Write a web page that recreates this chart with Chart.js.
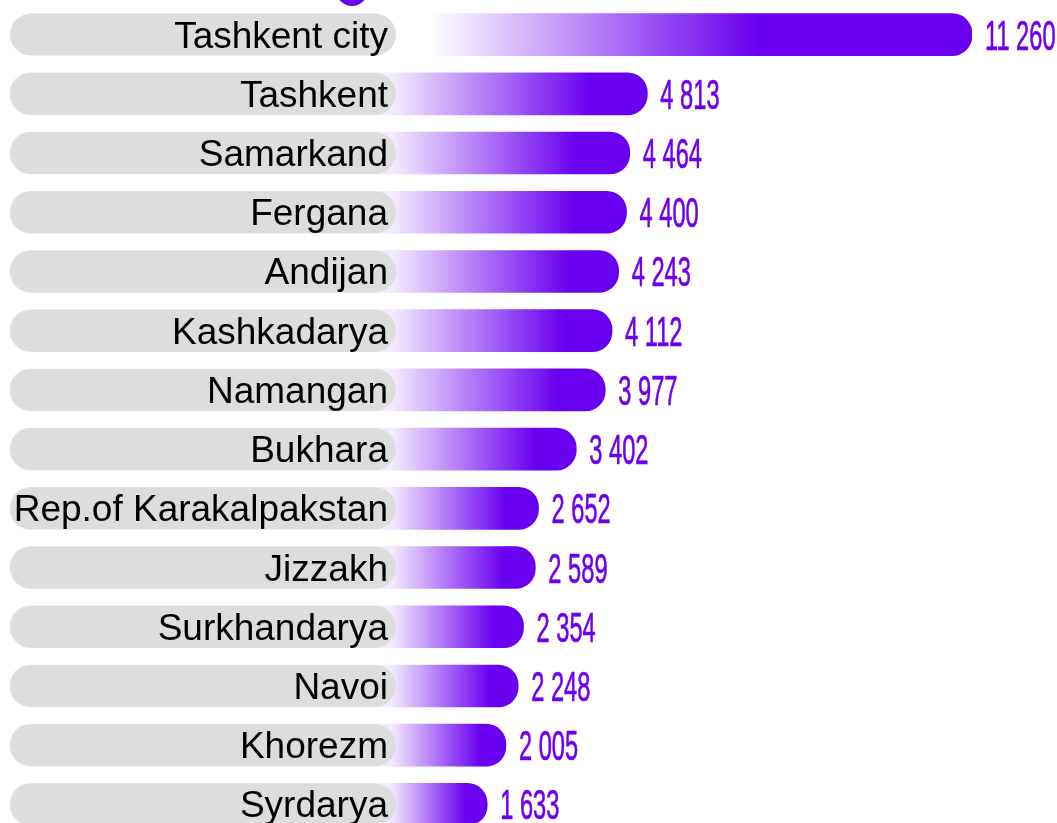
<!DOCTYPE html>
<html>
<head>
<meta charset="utf-8">
<script src="https://cdn.jsdelivr.net/npm/chart.js@4"></script>
<style>
  html, body { margin: 0; padding: 0; background: #fff; overflow: hidden; }
  #wrap { position: relative; width: 1057px; height: 834px; }
</style>
</head>
<body>
<div id="wrap"><canvas id="regionChart"></canvas></div>
<script>
const regions = [
  'Tashkent city', 'Tashkent', 'Samarkand', 'Fergana', 'Andijan', 'Kashkadarya',
  'Namangan', 'Bukhara', 'Rep.of Karakalpakstan', 'Jizzakh', 'Surkhandarya',
  'Navoi', 'Khorezm', 'Syrdarya'
];
const counts = [11260, 4813, 4464, 4400, 4243, 4112, 3977, 3402, 2652, 2589, 2354, 2248, 2005, 1633];

// hidden part of the axis that sits under the grey name pills
const axisMin = -7844;
const axisMax = 11260;

const PURPLE = '106, 0, 240';
const PILL = '#dcdddd';
const PILL_W = 386;

function fmtNum(v) {
  return String(v).replace(/\B(?=(\d{3})+(?!\d))/g, ' ');
}

function barGradient(ctx) {
  const chart = ctx.chart;
  const xs = chart.scales.x;
  if (!xs || !chart.chartArea) return 'rgb(' + PURPLE + ')';
  const x0 = xs.getPixelForValue(axisMin) + PILL_W - 6;
  const x1 = xs.getPixelForValue(counts[ctx.dataIndex]);
  if (!isFinite(x0) || !isFinite(x1)) return 'rgb(' + PURPLE + ')';
  const first = ctx.dataIndex === 0;
  const g = chart.ctx.createLinearGradient(x0, 0, x1, 0);
  const a0 = first ? 0 : 0.08;
  g.addColorStop(0, 'rgba(' + PURPLE + ', ' + a0 + ')');
  g.addColorStop(first ? 0.07 : 0.01, 'rgba(' + PURPLE + ', ' + a0 + ')');
  g.addColorStop(first ? 0.63 : 0.78, 'rgba(' + PURPLE + ', 1)');
  g.addColorStop(1, 'rgba(' + PURPLE + ', 1)');
  return g;
}

function roundRect(c, x, y, w, h, r) {
  c.beginPath();
  c.moveTo(x + r, y);
  c.lineTo(x + w - r, y);
  c.arc(x + w - r, y + r, r, -Math.PI / 2, Math.PI / 2);
  c.lineTo(x + r, y + h);
  c.arc(x + r, y + r, r, Math.PI / 2, Math.PI * 1.5);
  c.closePath();
}

// grey pills with region names, drawn over the hidden start of each bar
const pillsPlugin = {
  id: 'pills',
  afterDatasetsDraw(chart) {
    const c = chart.ctx;
    const meta = chart.getDatasetMeta(0);
    const xs = chart.scales.x;
    const left = xs.getPixelForValue(axisMin);
    const right = left + PILL_W;
    c.save();
    meta.data.forEach((bar, i) => {
      const h = bar.height;
      const top = bar.y - h / 2;
      c.fillStyle = PILL;
      roundRect(c, left, top, PILL_W, h, h / 2);
      c.fill();
      c.fillStyle = '#000';
      c.font = '37px "Liberation Sans", Arial, sans-serif';
      c.textAlign = 'right';
      c.textBaseline = 'alphabetic';
      c.fillText(regions[i], right - 8, bar.y + 13);

      // value at bar end, narrow digits
      c.save();
      c.fillStyle = 'rgb(112, 0, 236)';
      c.strokeStyle = 'rgb(112, 0, 236)';
      c.lineWidth = 0.7;
      c.font = '43px "Liberation Sans", Arial, sans-serif';
      c.textAlign = 'left';
      c.translate(bar.x + 13, bar.y + 15);
      c.scale(0.55, 1);
      c.fillText(fmtNum(counts[i]), 0, 0);
      c.strokeText(fmtNum(counts[i]), 0, 0);
      c.restore();
    });

    // marker peeking in at the top edge
    c.fillStyle = 'rgb(' + PURPLE + ')';
    c.beginPath();
    c.arc(352, -10, 16, 0, Math.PI * 2);
    c.fill();
    c.restore();
  }
};

const chart = new Chart(document.getElementById('regionChart'), {
  type: 'bar',
  data: {
    labels: regions,
    datasets: [{
      data: counts,
      base: axisMin,
      backgroundColor: barGradient,
      borderRadius: 20,
      borderSkipped: false,
      barThickness: 42
    }]
  },
  options: {
    indexAxis: 'y',
    responsive: true,
    maintainAspectRatio: false,
    animation: false,
    layout: { padding: { left: 10, right: 85, top: 5, bottom: 0 } },
    plugins: {
      legend: { display: false },
      tooltip: { enabled: false }
    },
    scales: {
      x: { display: false, min: axisMin, max: axisMax },
      y: { display: false }
    }
  },
  plugins: [pillsPlugin]
});
</script>
</body>
</html>
